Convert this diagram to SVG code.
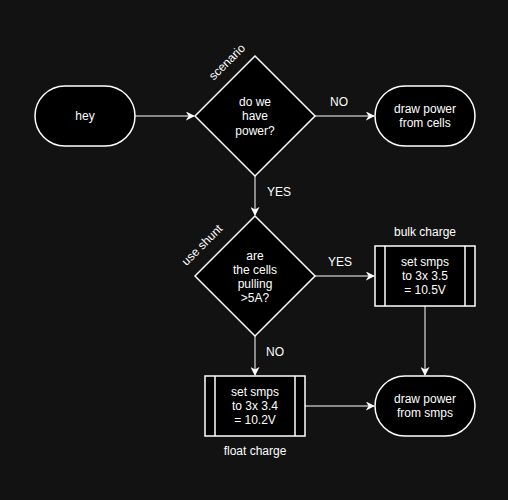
<svg xmlns="http://www.w3.org/2000/svg" width="508" height="500" viewBox="0 0 508 500">
<defs>
<style>
.n{fill:#000;stroke:#fff;stroke-width:1.5}
.l{fill:none;stroke:#fff;stroke-width:1.5}
.e{fill:none;stroke:#fff;stroke-width:1}
text{font-family:"Liberation Sans",Arial,sans-serif;font-size:12px;fill:#fff;text-anchor:middle}
</style>
<marker id="a" viewBox="0 0 10 10" refX="9" refY="5" markerWidth="9" markerHeight="9" markerUnits="userSpaceOnUse" orient="auto">
<path d="M0,0 L10,5 L0,10 L3,5 Z" fill="#fff"/>
</marker>
</defs>
<rect width="508" height="500" fill="#121212"/>
<g id="connectors">
<line class="e" x1="135" y1="116" x2="194" y2="116" marker-end="url(#a)"/>
<line class="e" x1="315" y1="116" x2="374" y2="116" marker-end="url(#a)"/>
<line class="e" x1="255" y1="176" x2="255" y2="215" marker-end="url(#a)"/>
<line class="e" x1="315" y1="276" x2="374" y2="276" marker-end="url(#a)"/>
<line class="e" x1="255" y1="336" x2="255" y2="375" marker-end="url(#a)"/>
<line class="e" x1="425" y1="306" x2="425" y2="375" marker-end="url(#a)"/>
<line class="e" x1="305" y1="406" x2="374" y2="406" marker-end="url(#a)"/>
<text x="339" y="106">NO</text>
<text x="279" y="196">YES</text>
<text x="340" y="266">YES</text>
<text x="275" y="356">NO</text>
</g>
<g id="hey">
<rect class="n" x="35" y="86" width="100" height="60" rx="30"/>
<text x="85" y="120">hey</text>
</g>
<g id="power">
<path class="n" d="M255,56 L315,116 L255,176 L195,116 Z"/>
<text x="255" y="106">do we</text>
<text x="255" y="120">have</text>
<text x="255" y="135">power?</text>
<text transform="translate(227,62) rotate(-45)" y="4">scenario</text>
</g>
<g id="cells">
<rect class="n" x="375" y="86" width="100" height="60" rx="30"/>
<text x="425" y="113">draw power</text>
<text x="425" y="127">from cells</text>
</g>
<g id="pulling">
<path class="n" d="M255,216 L315,276 L255,336 L195,276 Z"/>
<text x="255" y="260">are</text>
<text x="255" y="274">the cells</text>
<text x="255" y="288">pulling</text>
<text x="255" y="302">&gt;5A?</text>
<text transform="translate(202,245) rotate(-45)" y="4">use shunt</text>
</g>
<g id="bulk">
<rect class="n" x="375" y="246" width="100" height="60"/>
<line class="l" x1="385" y1="246" x2="385" y2="306"/>
<line class="l" x1="465" y1="246" x2="465" y2="306"/>
<text x="425" y="266">set smps</text>
<text x="425" y="280">to 3x 3.5</text>
<text x="425" y="294"> = 10.5V</text>
<text x="425" y="236">bulk charge</text>
</g>
<g id="float">
<rect class="n" x="205" y="376" width="100" height="60"/>
<line class="l" x1="215" y1="376" x2="215" y2="436"/>
<line class="l" x1="295" y1="376" x2="295" y2="436"/>
<text x="255" y="396">set smps</text>
<text x="255" y="410">to 3x 3.4</text>
<text x="255" y="424">= 10.2V</text>
<text x="255" y="455">float charge</text>
</g>
<g id="smps">
<rect class="n" x="375" y="376" width="100" height="60" rx="30"/>
<text x="425" y="403">draw power</text>
<text x="425" y="417">from smps</text>
</g>
</svg>
